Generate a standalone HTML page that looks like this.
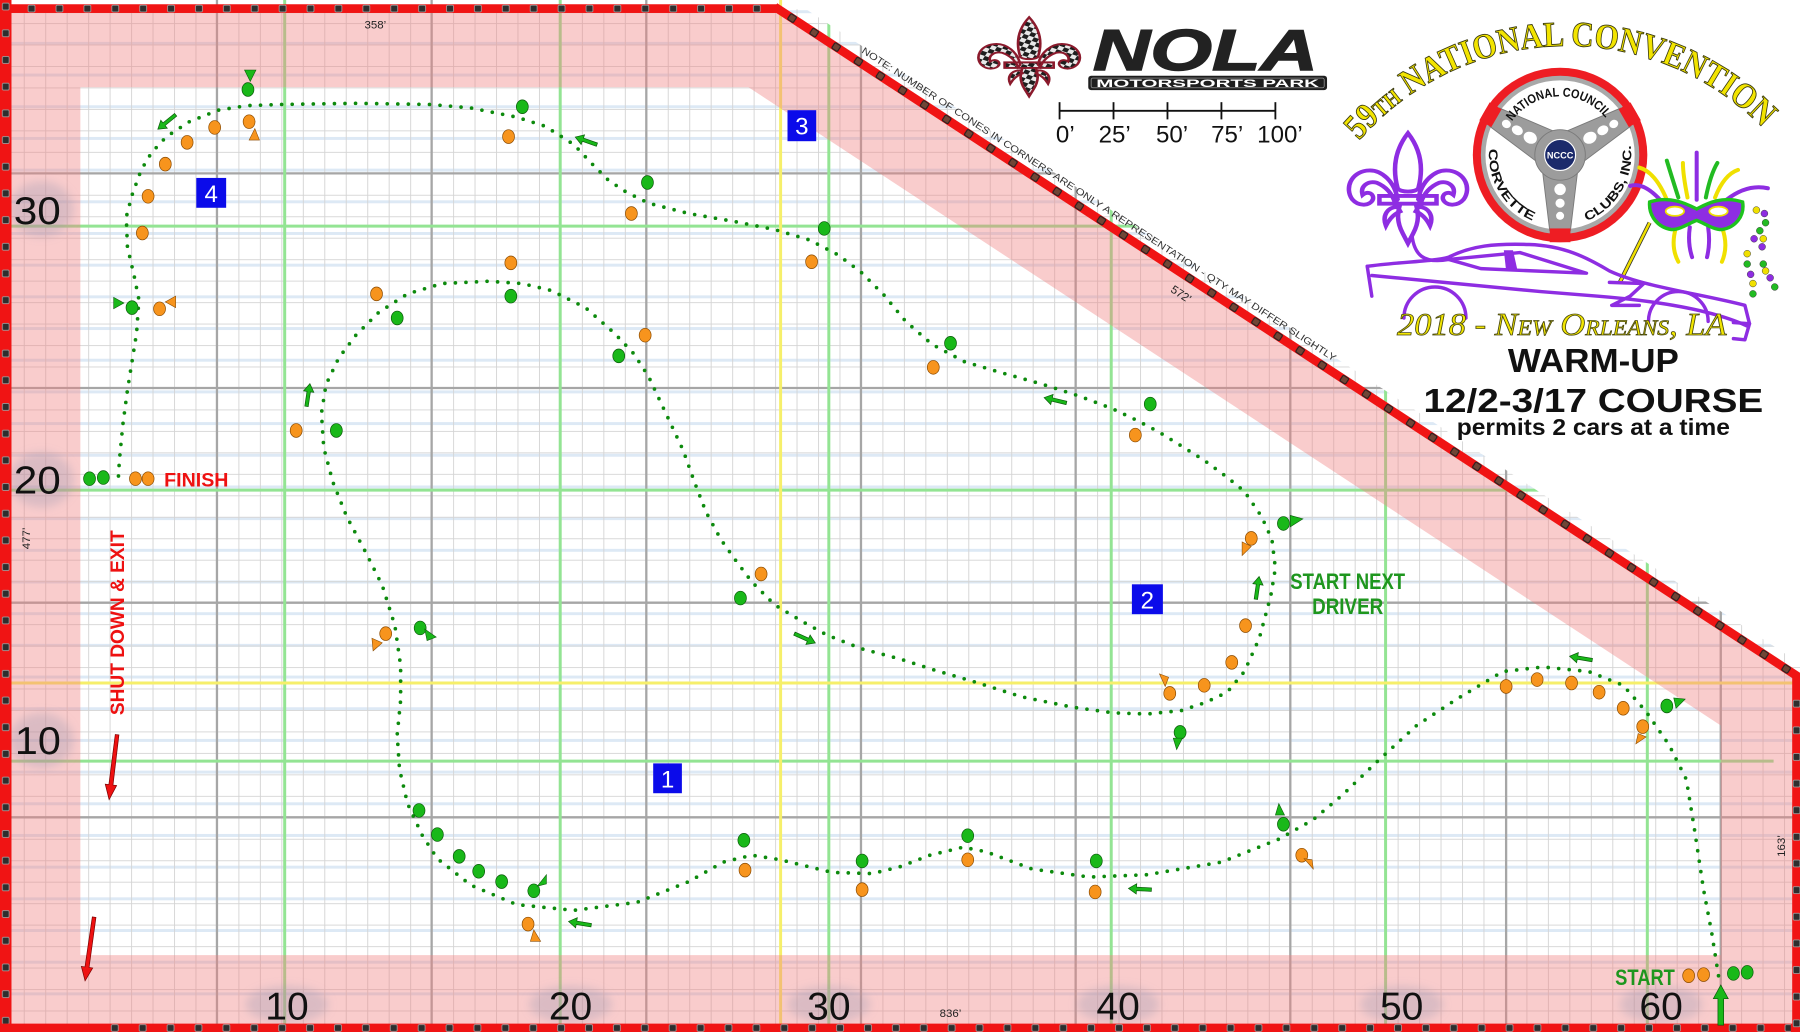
<!DOCTYPE html>
<html><head><meta charset="utf-8"><style>
html,body{margin:0;padding:0;background:#fff;}
svg{display:block;}
</style></head><body>
<svg xmlns="http://www.w3.org/2000/svg" width="1800" height="1032" viewBox="0 0 1568 899" preserveAspectRatio="none" font-family="'Liberation Sans', sans-serif">
<defs>
 <clipPath id="gc"><polygon points="0,0 690,0 1568,578 1568,899 0,899"/></clipPath>
 <pattern id="mg" patternUnits="userSpaceOnUse" x="2" y="1.4" width="18.7" height="18.7"><path d="M0,0.4H18.7M0.4,0V18.7" stroke="#d4d4d4" stroke-width="0.8" fill="none"/></pattern>
 <pattern id="lb" patternUnits="userSpaceOnUse" x="0" y="8.9" width="100" height="27.6"><rect x="0" y="0" width="100" height="2.6" fill="#dde9f5"/></pattern>
 <pattern id="sqT" patternUnits="userSpaceOnUse" x="15.35" y="-3.5" width="24.3" height="7"><rect x="9.15" y="0.6" width="6" height="5.8" rx="1" fill="#2e2e2e" stroke="#a0a0a0" stroke-width="0.7"/></pattern>
 <pattern id="sqB" patternUnits="userSpaceOnUse" x="14.95" y="-3.5" width="24.3" height="7"><rect x="9.15" y="0.6" width="6" height="5.8" rx="1" fill="#2e2e2e" stroke="#a0a0a0" stroke-width="0.7"/></pattern>
 <pattern id="sqL" patternUnits="userSpaceOnUse" x="17.375" y="-3.5" width="23.25" height="7"><rect x="8.6" y="0.6" width="6" height="5.8" rx="1" fill="#2e2e2e" stroke="#a0a0a0" stroke-width="0.7"/></pattern>
 <pattern id="sqR" patternUnits="userSpaceOnUse" x="21.4" y="-3.5" width="23.2" height="7"><rect x="8.6" y="0.6" width="6" height="5.8" rx="1" fill="#2e2e2e" stroke="#a0a0a0" stroke-width="0.7"/></pattern>
 <pattern id="sqD" patternUnits="userSpaceOnUse" x="6.4" y="-3.5" width="23" height="7"><rect x="8.5" y="0.6" width="6" height="5.8" rx="1" fill="#704536" stroke="#1e1e1e" stroke-width="0.9"/></pattern>
 <pattern id="chk" patternUnits="userSpaceOnUse" width="10" height="10" patternTransform="rotate(25)"><rect width="10" height="10" fill="#e8e8e8"/><rect width="5" height="5" fill="#1e1e1e"/><rect x="5" y="5" width="5" height="5" fill="#1e1e1e"/></pattern>
 <filter id="bl" x="-50%" y="-50%" width="200%" height="200%"><feGaussianBlur stdDeviation="4"/></filter>
 <path id="fdl" d="M50,0 C42,12 37,28 42,50 C44,54 56,54 58,50 C63,28 58,12 50,0 Z
  M42,60 C40,45 30,32 18,34 C6,36 1,50 7,60 C12,67 21,66 23,60 C24,55 19,52 15,56 C13,48 19,43 26,45 C34,49 38,56 40,63 Z
  M58,60 C60,45 70,32 82,34 C94,36 99,50 93,60 C88,67 79,66 77,60 C76,55 81,52 85,56 C87,48 81,43 74,45 C66,49 62,56 60,63 Z
  M28,57 L72,57 L72,64 L28,64 Z
  M44,64 C42,72 41,80 46,91 L50,100 L54,91 C59,80 58,72 56,64 Z
  M42,67 C34,67 30,75 33,84 C36,77 40,73 44,71 Z
  M58,67 C66,67 70,75 67,84 C64,77 60,73 56,71 Z"/>
 <path id="arc59" d="M1183.9,122.5 A240,240 0 0,1 1537.6,113.3" fill="none"/>
 <path id="arcNC" d="M1317.2,105.7 A51,51 0 0,1 1400.8,105.7" fill="none"/>
 <path id="arcCV" d="M1297.2,129.6 A62,62 0 0,0 1335.8,192.5" fill="none"/>
 <path id="arcCL" d="M1382.2,192.5 A62,62 0 0,0 1420.1,124.2" fill="none"/>
</defs>

<rect width="1568" height="899" fill="#fff"/>

<!-- GRID -->
<g clip-path="url(#gc)">
 <rect x="8" y="8" width="1560" height="891" fill="url(#lb)"/>
 <rect x="8" y="8" width="1560" height="891" fill="url(#mg)"/>
 <g stroke="#a6a6a6" stroke-width="2">
  <line x1="189" y1="0" x2="189" y2="899"/><line x1="376" y1="0" x2="376" y2="899"/>
  <line x1="563" y1="0" x2="563" y2="899"/><line x1="750" y1="0" x2="750" y2="899"/>
  <line x1="937" y1="0" x2="937" y2="899"/><line x1="1124" y1="0" x2="1124" y2="899"/>
  <line x1="1312" y1="0" x2="1312" y2="899"/><line x1="1499" y1="0" x2="1499" y2="899"/>
  <line x1="0" y1="151" x2="1568" y2="151"/><line x1="0" y1="338" x2="1568" y2="338"/>
  <line x1="0" y1="525" x2="1568" y2="525"/><line x1="0" y1="712" x2="1568" y2="712"/>
 </g>
 <g stroke="#93e493" stroke-width="2.6">
  <line x1="248" y1="0" x2="248" y2="899"/><line x1="488" y1="0" x2="488" y2="899"/>
  <line x1="722" y1="0" x2="722" y2="899"/><line x1="968" y1="0" x2="968" y2="899"/>
  <line x1="1207" y1="0" x2="1207" y2="899"/><line x1="1435" y1="0" x2="1435" y2="899"/>
  <line x1="0" y1="197" x2="1568" y2="197"/><line x1="0" y1="427" x2="1568" y2="427"/>
  <line x1="0" y1="663" x2="1545" y2="663"/>
 </g>
 <g stroke="#f6ef6a" stroke-width="2.6">
  <line x1="680" y1="0" x2="680" y2="899"/>
  <line x1="0" y1="595" x2="1568" y2="595"/>
 </g>
</g>

<!-- PINK ZONES -->
<path fill-rule="evenodd" fill="rgba(240,128,128,0.4)" d="M5,7 L677,7 L1565,589 L1565,896 L5,896 Z M70,76 L652,76 L1499,632 L1499,832 L70,832 Z"/>

<!-- label halos -->
<g fill="rgba(150,150,175,0.3)" filter="url(#bl)">
 <ellipse cx="250" cy="875" rx="36" ry="16"/><ellipse cx="497" cy="875" rx="36" ry="16"/>
 <ellipse cx="722" cy="875" rx="36" ry="16"/><ellipse cx="974" cy="875" rx="36" ry="16"/>
 <ellipse cx="1221" cy="875" rx="36" ry="16"/><ellipse cx="1447" cy="875" rx="36" ry="16"/>
 <ellipse cx="36" cy="182" rx="28" ry="24"/><ellipse cx="36" cy="418" rx="28" ry="24"/><ellipse cx="36" cy="645" rx="28" ry="24"/>
</g>

<!-- RED BORDER -->
<g>
 <g transform="translate(0,7.5)"><rect x="0" y="-3.8" width="678" height="7.6" fill="#f01414"/><rect x="0" y="-3.5" width="678" height="7" fill="url(#sqT)"/></g>
 <g transform="translate(5,0) rotate(90)"><rect x="0" y="-5" width="899" height="10" fill="#f01414"/><rect x="0" y="-3.5" width="899" height="7" fill="url(#sqL)"/></g>
 <g transform="translate(0,895.5)"><rect x="0" y="-3.8" width="1568" height="7.6" fill="#f01414"/><rect x="90" y="-3.5" width="1470" height="7" fill="url(#sqB)"/></g>
 <g transform="translate(1565,0) rotate(90)"><rect x="588" y="-3.8" width="311" height="7.6" fill="#f01414"/><rect x="595" y="-3.5" width="304" height="7" fill="url(#sqR)"/></g>
 <g transform="translate(675,6) rotate(33.21)"><rect x="0" y="-3.8" width="1066" height="7.6" fill="#f01414"/><rect x="0" y="-3.5" width="1062" height="7" fill="url(#sqD)"/></g>
</g>

<!-- small dimension labels -->
<g fill="#222" font-size="10">
 <text x="327" y="25" text-anchor="middle">358’</text>
 <text x="828" y="886" text-anchor="middle">836’</text>
 <text transform="translate(26,469) rotate(-90)" text-anchor="middle">477’</text>
 <text transform="translate(1555,737) rotate(-90)" text-anchor="middle">163’</text>
 <text transform="translate(1027,259) rotate(33.2)" text-anchor="middle">572’</text>
 <text transform="translate(750,45.5) rotate(33.21)" font-size="8.3" fill="#333" textLength="492" lengthAdjust="spacingAndGlyphs">NOTE: NUMBER OF CONES IN CORNERS ARE ONLY A REPRESENTATION - QTY MAY DIFFER SLIGHTLY</text>
</g>

<!-- axis numbers -->
<g fill="#111" font-size="34">
 <text x="250" y="888" text-anchor="middle">10</text>
 <text x="497" y="888" text-anchor="middle">20</text>
 <text x="722" y="888" text-anchor="middle">30</text>
 <text x="974" y="888" text-anchor="middle">40</text>
 <text x="1221" y="888" text-anchor="middle">50</text>
 <text x="1447" y="888" text-anchor="middle">60</text>
 <text x="12" y="195" textLength="41" lengthAdjust="spacingAndGlyphs">30</text>
 <text x="12" y="430" textLength="41" lengthAdjust="spacingAndGlyphs">20</text>
 <text x="13" y="657" textLength="40" lengthAdjust="spacingAndGlyphs">10</text>
</g>

<!-- blue boxes -->
<g>
 <rect x="171" y="155" width="26" height="26" fill="#0b0bea"/>
 <rect x="686" y="96" width="25" height="27" fill="#0b0bea"/>
 <rect x="569" y="665" width="25" height="26" fill="#0b0bea"/>
 <rect x="986" y="509" width="27" height="26" fill="#0b0bea"/>
 <g fill="#fff" font-size="21" text-anchor="middle">
  <text x="184" y="176">4</text><text x="698.5" y="117">3</text>
  <text x="581.5" y="686">1</text><text x="999.5" y="530">2</text>
 </g>
</g>

<!-- course path -->
<path fill="none" stroke="#0d8a0d" stroke-width="3.2" stroke-linecap="round" stroke-linejoin="round" stroke-dasharray="0 9.2"
 d="M1497,850 L1491,812 L1484,775 L1476,722 L1469,679 L1454,649 L1434,620 L1414,597 L1384,585 L1344,581 L1309,585 L1269,609 L1234,632 L1199,664 L1170,692 L1144,714 L1114,731 L1064,751 L999,762 L949,764 L899,757 L859,742 L839,738 L810,745 L784,755 L760,761 L725,760 L680,749 L655,745 L630,751 L600,768 L555,786 L500,793 L450,788 L410,771 L381,748 L368,728 L355,700 L348,670 L346,640 L349,610 L349,580 L344,545 L333,510 L318,480 L302,450 L290,420 L282,390 L280,360 L284,335 L295,312 L310,292 L330,272 L355,256 L385,247 L425,245 L455,247 L480,253 L510,268 L535,290 L552,308 L565,328 L580,360 L595,392 L605,420 L615,446 L628,470 L640,487 L655,507 L675,527 L700,542 L720,553 L750,565 L784,574 L815,584 L849,594 L890,607 L934,616 L970,621 L999,622 L1029,619 L1050,612 L1069,603 L1084,585 L1097,556 L1107,519 L1111,495 L1108,470 L1099,450 L1084,428 L1068,415 L1049,401 L1030,389 L1009,376 L990,366 L969,356 L940,345 L909,335 L870,324 L840,315 L812,300 L789,280 L770,257 L750,237 L730,222 L705,209 L675,200 L640,193 L600,186 L565,177 L545,167 L530,157 L515,142 L500,126 L475,110 L450,102 L410,94 L375,91 L310,90 L245,91 L215,92 L190,96 L165,106 L145,119 L132,133 L123,148 L115,170 L110,189 L111,215 L117,241 L121,261 L119,290 L115,315 L111,340 L107,370 L104,401 L103,418"/>

<!-- cones -->
<g fill="#19b819" stroke="#0a5a0a" stroke-width="0.6">
 <ellipse cx="216" cy="78" rx="5.2" ry="6"/><ellipse cx="455" cy="93" rx="5.2" ry="6"/>
 <ellipse cx="564" cy="159" rx="5.2" ry="6"/><ellipse cx="718" cy="199" rx="5.2" ry="6"/>
 <ellipse cx="828" cy="299" rx="5.2" ry="6"/><ellipse cx="1002" cy="352" rx="5.2" ry="6"/>
 <ellipse cx="1118" cy="456" rx="5.2" ry="6"/><ellipse cx="346" cy="277" rx="5.2" ry="6"/>
 <ellipse cx="445" cy="258" rx="5.2" ry="6"/><ellipse cx="539" cy="310" rx="5.2" ry="6"/>
 <ellipse cx="293" cy="375" rx="5.2" ry="6"/><ellipse cx="645" cy="521" rx="5.2" ry="6"/>
 <ellipse cx="115" cy="268" rx="5.2" ry="6"/><ellipse cx="78" cy="417" rx="5.2" ry="6"/>
 <ellipse cx="90" cy="416" rx="5.2" ry="6"/><ellipse cx="366" cy="547" rx="5.2" ry="6"/>
 <ellipse cx="1028" cy="638" rx="5.2" ry="6"/><ellipse cx="365" cy="706" rx="5.2" ry="6"/>
 <ellipse cx="381" cy="727" rx="5.2" ry="6"/><ellipse cx="400" cy="746" rx="5.2" ry="6"/>
 <ellipse cx="417" cy="759" rx="5.2" ry="6"/><ellipse cx="437" cy="768" rx="5.2" ry="6"/>
 <ellipse cx="465" cy="776" rx="5.2" ry="6"/><ellipse cx="648" cy="732" rx="5.2" ry="6"/>
 <ellipse cx="751" cy="750" rx="5.2" ry="6"/><ellipse cx="843" cy="728" rx="5.2" ry="6"/>
 <ellipse cx="955" cy="750" rx="5.2" ry="6"/><ellipse cx="1118" cy="718" rx="5.2" ry="6"/>
 <ellipse cx="1452" cy="615" rx="5.2" ry="6"/><ellipse cx="1510" cy="848" rx="5.2" ry="6"/>
 <ellipse cx="1522" cy="847" rx="5.2" ry="6"/>
</g>
<g fill="#f7941d" stroke="#8a4a00" stroke-width="0.6">
 <ellipse cx="217" cy="106" rx="5.2" ry="6"/><ellipse cx="187" cy="111" rx="5.2" ry="6"/>
 <ellipse cx="163" cy="124" rx="5.2" ry="6"/><ellipse cx="144" cy="143" rx="5.2" ry="6"/>
 <ellipse cx="129" cy="171" rx="5.2" ry="6"/><ellipse cx="124" cy="203" rx="5.2" ry="6"/>
 <ellipse cx="443" cy="119" rx="5.2" ry="6"/><ellipse cx="550" cy="186" rx="5.2" ry="6"/>
 <ellipse cx="707" cy="228" rx="5.2" ry="6"/><ellipse cx="445" cy="229" rx="5.2" ry="6"/>
 <ellipse cx="328" cy="256" rx="5.2" ry="6"/><ellipse cx="562" cy="292" rx="5.2" ry="6"/>
 <ellipse cx="258" cy="375" rx="5.2" ry="6"/><ellipse cx="139" cy="269" rx="5.2" ry="6"/>
 <ellipse cx="118" cy="417" rx="5.2" ry="6"/><ellipse cx="129" cy="417" rx="5.2" ry="6"/>
 <ellipse cx="813" cy="320" rx="5.2" ry="6"/><ellipse cx="989" cy="379" rx="5.2" ry="6"/>
 <ellipse cx="336" cy="552" rx="5.2" ry="6"/><ellipse cx="663" cy="500" rx="5.2" ry="6"/>
 <ellipse cx="460" cy="805" rx="5.2" ry="6"/><ellipse cx="649" cy="758" rx="5.2" ry="6"/>
 <ellipse cx="751" cy="775" rx="5.2" ry="6"/><ellipse cx="1090" cy="469" rx="5.2" ry="6"/>
 <ellipse cx="1085" cy="545" rx="5.2" ry="6"/><ellipse cx="1073" cy="577" rx="5.2" ry="6"/>
 <ellipse cx="1049" cy="597" rx="5.2" ry="6"/><ellipse cx="1019" cy="604" rx="5.2" ry="6"/>
 <ellipse cx="843" cy="749" rx="5.2" ry="6"/><ellipse cx="954" cy="777" rx="5.2" ry="6"/>
 <ellipse cx="1134" cy="745" rx="5.2" ry="6"/><ellipse cx="1312" cy="598" rx="5.2" ry="6"/>
 <ellipse cx="1339" cy="592" rx="5.2" ry="6"/><ellipse cx="1369" cy="595" rx="5.2" ry="6"/>
 <ellipse cx="1393" cy="603" rx="5.2" ry="6"/><ellipse cx="1414" cy="617" rx="5.2" ry="6"/>
 <ellipse cx="1431" cy="633" rx="5.2" ry="6"/><ellipse cx="1471" cy="850" rx="5.2" ry="6"/>
 <ellipse cx="1484" cy="849" rx="5.2" ry="6"/>
</g>
<!-- cone flags -->
<g fill="#19b819" stroke="#0a5a0a" stroke-width="0.5">
 <polygon points="213,61 223,61 218,71"/><polygon points="99,259 99,269 108,264"/>
 <polygon points="370,548 372,558 380,555"/><polygon points="468,772 476,770 476,762"/>
 <polygon points="1124,449 1124,459 1135,452"/><polygon points="1022,643 1030,643 1025,653"/>
 <polygon points="1111,710 1119,710 1114,700"/><polygon points="1458,608 1460,617 1468,609"/>
</g>
<g fill="#f7941d" stroke="#8a4a00" stroke-width="0.5">
 <polygon points="217,122 226,122 222,112"/><polygon points="153,258 153,268 144,263"/>
 <polygon points="324,556 333,560 325,567"/><polygon points="462,820 471,820 465,810"/>
 <polygon points="1082,472 1090,476 1082,484"/><polygon points="1010,587 1018,590 1015,598"/>
 <polygon points="1136,748 1143,749 1144,757"/><polygon points="1427,639 1434,642 1425,648"/>
</g>

<!-- green arrows -->
<g fill="#19b819" stroke="#0a5a0a" stroke-width="0.6">
 <path transform="translate(153,100) rotate(140.9)" d="M0,-1.5 L13,-1.5 L13,-4.5 L20,0 L13,4.5 L13,1.5 L0,1.5 Z"/>
 <path transform="translate(520,126) rotate(199.3)" d="M0,-1.5 L13,-1.5 L13,-4.5 L20,0 L13,4.5 L13,1.5 L0,1.5 Z"/>
 <path transform="translate(267,354) rotate(-81.5)" d="M0,-1.5 L13,-1.5 L13,-4.5 L20,0 L13,4.5 L13,1.5 L0,1.5 Z"/>
 <path transform="translate(692,552) rotate(24)" d="M0,-1.5 L13,-1.5 L13,-4.5 L20,0 L13,4.5 L13,1.5 L0,1.5 Z"/>
 <path transform="translate(929,351) rotate(193.4)" d="M0,-1.5 L13,-1.5 L13,-4.5 L20,0 L13,4.5 L13,1.5 L0,1.5 Z"/>
 <path transform="translate(1094,522) rotate(-81.9)" d="M0,-1.5 L13,-1.5 L13,-4.5 L20,0 L13,4.5 L13,1.5 L0,1.5 Z"/>
 <path transform="translate(515,806) rotate(189.5)" d="M0,-1.5 L13,-1.5 L13,-4.5 L20,0 L13,4.5 L13,1.5 L0,1.5 Z"/>
 <path transform="translate(1003,775) rotate(183)" d="M0,-1.5 L13,-1.5 L13,-4.5 L20,0 L13,4.5 L13,1.5 L0,1.5 Z"/>
 <path transform="translate(1387,575) rotate(189.5)" d="M0,-1.5 L13,-1.5 L13,-4.5 L20,0 L13,4.5 L13,1.5 L0,1.5 Z"/>
 <path transform="translate(1499,893) rotate(-90)" d="M0,-2.5 L23,-2.5 L23,-6.5 L35,0 L23,6.5 L23,2.5 L0,2.5 Z"/>
</g>
<!-- red arrows -->
<g fill="#ee1111" stroke="#7a0000" stroke-width="0.6">
 <path transform="translate(102,640) rotate(97)" d="M0,-1.6 L44,-1.8 L44,-5 L57,0 L44,5 L44,1.8 L0,1.6 Z"/>
 <path transform="translate(82,799) rotate(98.1)" d="M0,-1.6 L44,-1.8 L44,-5 L56,0 L44,5 L44,1.8 L0,1.6 Z"/>
</g>

<!-- course texts -->
<g font-weight="bold">
 <text x="143" y="424" font-size="17" fill="#ee1111" textLength="56" lengthAdjust="spacingAndGlyphs">FINISH</text>
 <text transform="translate(108,623) rotate(-90)" font-size="17" fill="#ee1111" textLength="161" lengthAdjust="spacingAndGlyphs">SHUT DOWN &amp; EXIT</text>
 <text x="1124" y="513" font-size="19" fill="#1e961e" textLength="100" lengthAdjust="spacingAndGlyphs">START NEXT</text>
 <text x="1143" y="535" font-size="19" fill="#1e961e" textLength="62" lengthAdjust="spacingAndGlyphs">DRIVER</text>
 <text x="1407" y="858" font-size="19" fill="#1e961e" textLength="52" lengthAdjust="spacingAndGlyphs">START</text>
</g>

<!-- NOLA logo -->
<g>
 <use href="#fdl" transform="translate(848,15) scale(0.97,0.69)" fill="url(#chk)" stroke="#8b1a2c" stroke-width="2.4" vector-effect="non-scaling-stroke"/>
 <text x="952" y="61" font-size="50" font-weight="bold" font-style="italic" fill="#222" stroke="#222" stroke-width="1.2" textLength="196" lengthAdjust="spacingAndGlyphs">NOLA</text>
 <rect x="948" y="66" width="208" height="12.5" rx="2.5" fill="#1e1e1e"/>
 <rect x="950.5" y="68" width="203" height="8.5" rx="1.5" fill="none" stroke="#aaa" stroke-width="0.6"/>
 <text x="1052" y="76" font-size="9.5" font-weight="bold" fill="#fff" text-anchor="middle" textLength="194" lengthAdjust="spacingAndGlyphs">MOTORSPORTS PARK</text>
 <g stroke="#111" stroke-width="1.6">
  <line x1="923" y1="96.5" x2="1111" y2="96.5"/>
  <line x1="923" y1="89" x2="923" y2="104"/><line x1="970" y1="89" x2="970" y2="104"/>
  <line x1="1017" y1="89" x2="1017" y2="104"/><line x1="1064" y1="89" x2="1064" y2="104"/>
  <line x1="1111" y1="89" x2="1111" y2="104"/>
 </g>
 <g font-size="21" fill="#111" text-anchor="middle">
  <text x="928" y="124">0’</text><text x="971" y="124">25’</text><text x="1021" y="124">50’</text>
  <text x="1069" y="124">75’</text><text x="1115" y="124">100’</text>
 </g>
</g>

<!-- Convention logo -->
<g>
 <text font-family="'Liberation Serif', serif" font-weight="bold" font-size="31" fill="#f2e400" stroke="#3a3a10" stroke-width="0.8"><textPath href="#arc59" textLength="395" lengthAdjust="spacingAndGlyphs">59<tspan font-size="20">TH</tspan> NATIONAL CONVENTION</textPath></text>

 <!-- purple fleur -->
 <use href="#fdl" transform="translate(1170,116) scale(1.13,0.96)" fill="#fff" stroke="#8e2de2" stroke-width="3.5" vector-effect="non-scaling-stroke"/>

 <!-- steering wheel -->
 <g>
  <circle cx="1359" cy="135" r="76" fill="#ee1d23"/>
  <circle cx="1359" cy="135" r="69" fill="#a8a8a8"/>
  <circle cx="1359" cy="135" r="65" fill="#fff"/>
  <g fill="#9c9c9c" stroke="#7a7a7a" stroke-width="0.8">
   <path transform="translate(1359,135) rotate(-60)" d="M-17,0 L-9,-66 L9,-66 L17,0 Z"/>
   <path transform="translate(1359,135) rotate(60)" d="M-17,0 L-9,-66 L9,-66 L17,0 Z"/>
   <path transform="translate(1359,135) rotate(180)" d="M-17,0 L-9,-66 L9,-66 L17,0 Z"/>
   <circle cx="1359" cy="135" r="22"/>
  </g>
  <g fill="#fff">
   <g transform="translate(1359,135) rotate(-60)"><ellipse cx="0" cy="-30" rx="5" ry="6"/><ellipse cx="0" cy="-43" rx="4" ry="5"/><ellipse cx="0" cy="-54" rx="3.5" ry="4"/></g>
   <g transform="translate(1359,135) rotate(60)"><ellipse cx="0" cy="-30" rx="5" ry="6"/><ellipse cx="0" cy="-43" rx="4" ry="5"/><ellipse cx="0" cy="-54" rx="3.5" ry="4"/></g>
   <g transform="translate(1359,135) rotate(180)"><ellipse cx="0" cy="-30" rx="5" ry="5"/><ellipse cx="0" cy="-42" rx="4" ry="4"/><ellipse cx="0" cy="-53" rx="3.5" ry="3.5"/></g>
  </g>
  <g fill="#ee1d23">
   <rect transform="translate(1359,135) rotate(-60)" x="-9" y="-76" width="18" height="12"/>
   <rect transform="translate(1359,135) rotate(60)" x="-9" y="-76" width="18" height="12"/>
   <rect transform="translate(1359,135) rotate(180)" x="-9" y="-76" width="18" height="12"/>
  </g>
  <circle cx="1359" cy="135" r="13.5" fill="#1b2a6b" stroke="#fff" stroke-width="1"/>
  <text x="1359" y="138" font-size="8" font-weight="bold" fill="#fff" text-anchor="middle">NCCC</text>
  <g font-size="11" font-weight="bold" fill="#111">
   <text><textPath href="#arcNC" textLength="94" lengthAdjust="spacingAndGlyphs">NATIONAL COUNCIL</textPath></text>
   <text><textPath href="#arcCV" textLength="78" lengthAdjust="spacingAndGlyphs">CORVETTE</textPath></text>
   <text><textPath href="#arcCL" textLength="82" lengthAdjust="spacingAndGlyphs">CLUBS, INC.</textPath></text>
  </g>
 </g>

 <!-- mask feathers -->
 <g fill="none" stroke-width="3.5" stroke-linecap="round">
  <path d="M1448,176 Q1432,158 1420,162" stroke="#8e2de2"/>
  <path d="M1452,174 Q1442,150 1428,146" stroke="#f0e000"/>
  <path d="M1462,172 Q1455,150 1452,140" stroke="#22bb22"/>
  <path d="M1470,172 Q1466,152 1466,142" stroke="#f0e000"/>
  <path d="M1478,174 L1478,133" stroke="#8e2de2"/>
  <path d="M1486,172 Q1490,152 1496,142" stroke="#22bb22"/>
  <path d="M1494,172 Q1502,152 1514,148" stroke="#f0e000"/>
  <path d="M1504,174 Q1522,160 1540,164" stroke="#8e2de2"/>
  <path d="M1460,198 Q1455,215 1462,228" stroke="#f0e000"/>
  <path d="M1472,198 Q1470,212 1474,224" stroke="#8e2de2"/>
  <path d="M1488,198 Q1490,212 1487,224" stroke="#8e2de2"/>
  <path d="M1500,198 Q1506,214 1500,228" stroke="#f0e000"/>
 </g>
 <line x1="1437" y1="194" x2="1411" y2="246" stroke="#333" stroke-width="3.6"/>
 <line x1="1437" y1="194" x2="1411" y2="246" stroke="#f0e000" stroke-width="2.2"/>
 <path d="M1437,176 C1455,170 1470,178 1478,182 C1486,178 1500,170 1518,176 C1520,188 1512,198 1500,200 C1492,200 1484,194 1478,192 C1472,194 1464,200 1456,200 C1444,198 1436,188 1437,176 Z" fill="#8e2de2" stroke="#1ec31e" stroke-width="3"/>
 <ellipse cx="1459" cy="184" rx="8" ry="4" fill="#fff" stroke="#f0e000" stroke-width="1.5"/>
 <ellipse cx="1497" cy="184" rx="8" ry="4" fill="#fff" stroke="#f0e000" stroke-width="1.5"/>
 <g stroke="#333" stroke-width="0.4">
  <circle cx="1530" cy="183" r="3" fill="#f0e000"/><circle cx="1537" cy="186" r="3" fill="#8e2de2"/>
  <circle cx="1538" cy="194" r="3" fill="#22bb22"/><circle cx="1533" cy="201" r="3" fill="#22bb22"/>
  <circle cx="1528" cy="208" r="3" fill="#8e2de2"/><circle cx="1536" cy="208" r="3" fill="#f0e000"/>
  <circle cx="1535" cy="215" r="3" fill="#8e2de2"/><circle cx="1522" cy="221" r="3" fill="#f0e000"/>
  <circle cx="1522" cy="230" r="3" fill="#22bb22"/><circle cx="1536" cy="230" r="3" fill="#22bb22"/>
  <circle cx="1525" cy="239" r="3" fill="#8e2de2"/><circle cx="1538" cy="236" r="3" fill="#f0e000"/>
  <circle cx="1542" cy="242" r="3" fill="#8e2de2"/><circle cx="1527" cy="247" r="3" fill="#f0e000"/>
  <circle cx="1546" cy="250" r="3" fill="#22bb22"/><circle cx="1527" cy="256" r="3" fill="#22bb22"/>
 </g>

 <!-- car -->
 <g fill="none" stroke="#8e2de2" stroke-width="3" stroke-linecap="round" stroke-linejoin="round">
  <path d="M1230,205 C1232,222 1240,230 1262,226"/>
  <path d="M1191,232 C1220,228 1248,228 1262,224 C1282,214 1302,212 1332,213 C1362,214 1382,224 1402,236 C1432,250 1482,256 1520,266 L1524,282"/>
  <path d="M1195,240 C1262,246 1302,250 1342,254 L1392,258 C1442,262 1492,270 1522,284"/>
  <path d="M1262,226 L1324,220 L1382,238 L1290,234 Z"/>
  <path d="M1223,277 A27,27 0 0,1 1277,277"/>
  <path d="M1436,280 A26,26 0 0,1 1488,280"/>
  <path d="M1402,246 L1432,247 L1420,258 L1404,266 L1428,266"/>
  <path d="M1191,232 L1195,258"/>
  <path d="M1510,281 L1524,282 L1520,296 L1510,295"/>
 </g>
 <path d="M1310,218 L1318,218 L1322,236 L1312,236 Z" fill="#8e2de2"/>

 <text x="1217" y="292" font-family="'Liberation Serif', serif" font-style="italic" font-variant="small-caps" font-size="28" fill="#f2e600" stroke="#4a4a10" stroke-width="0.7" textLength="287" lengthAdjust="spacingAndGlyphs">2018 - New Orleans, LA</text>

 <g font-weight="bold" fill="#111" text-anchor="middle">
  <text x="1388" y="324" font-size="29" textLength="149" lengthAdjust="spacingAndGlyphs">WARM-UP</text>
  <text x="1388" y="359" font-size="29" textLength="296" lengthAdjust="spacingAndGlyphs">12/2-3/17 COURSE</text>
  <text x="1388" y="379" font-size="20" textLength="238" lengthAdjust="spacingAndGlyphs">permits 2 cars at a time</text>
 </g>
</g>
</svg>
</body></html>
